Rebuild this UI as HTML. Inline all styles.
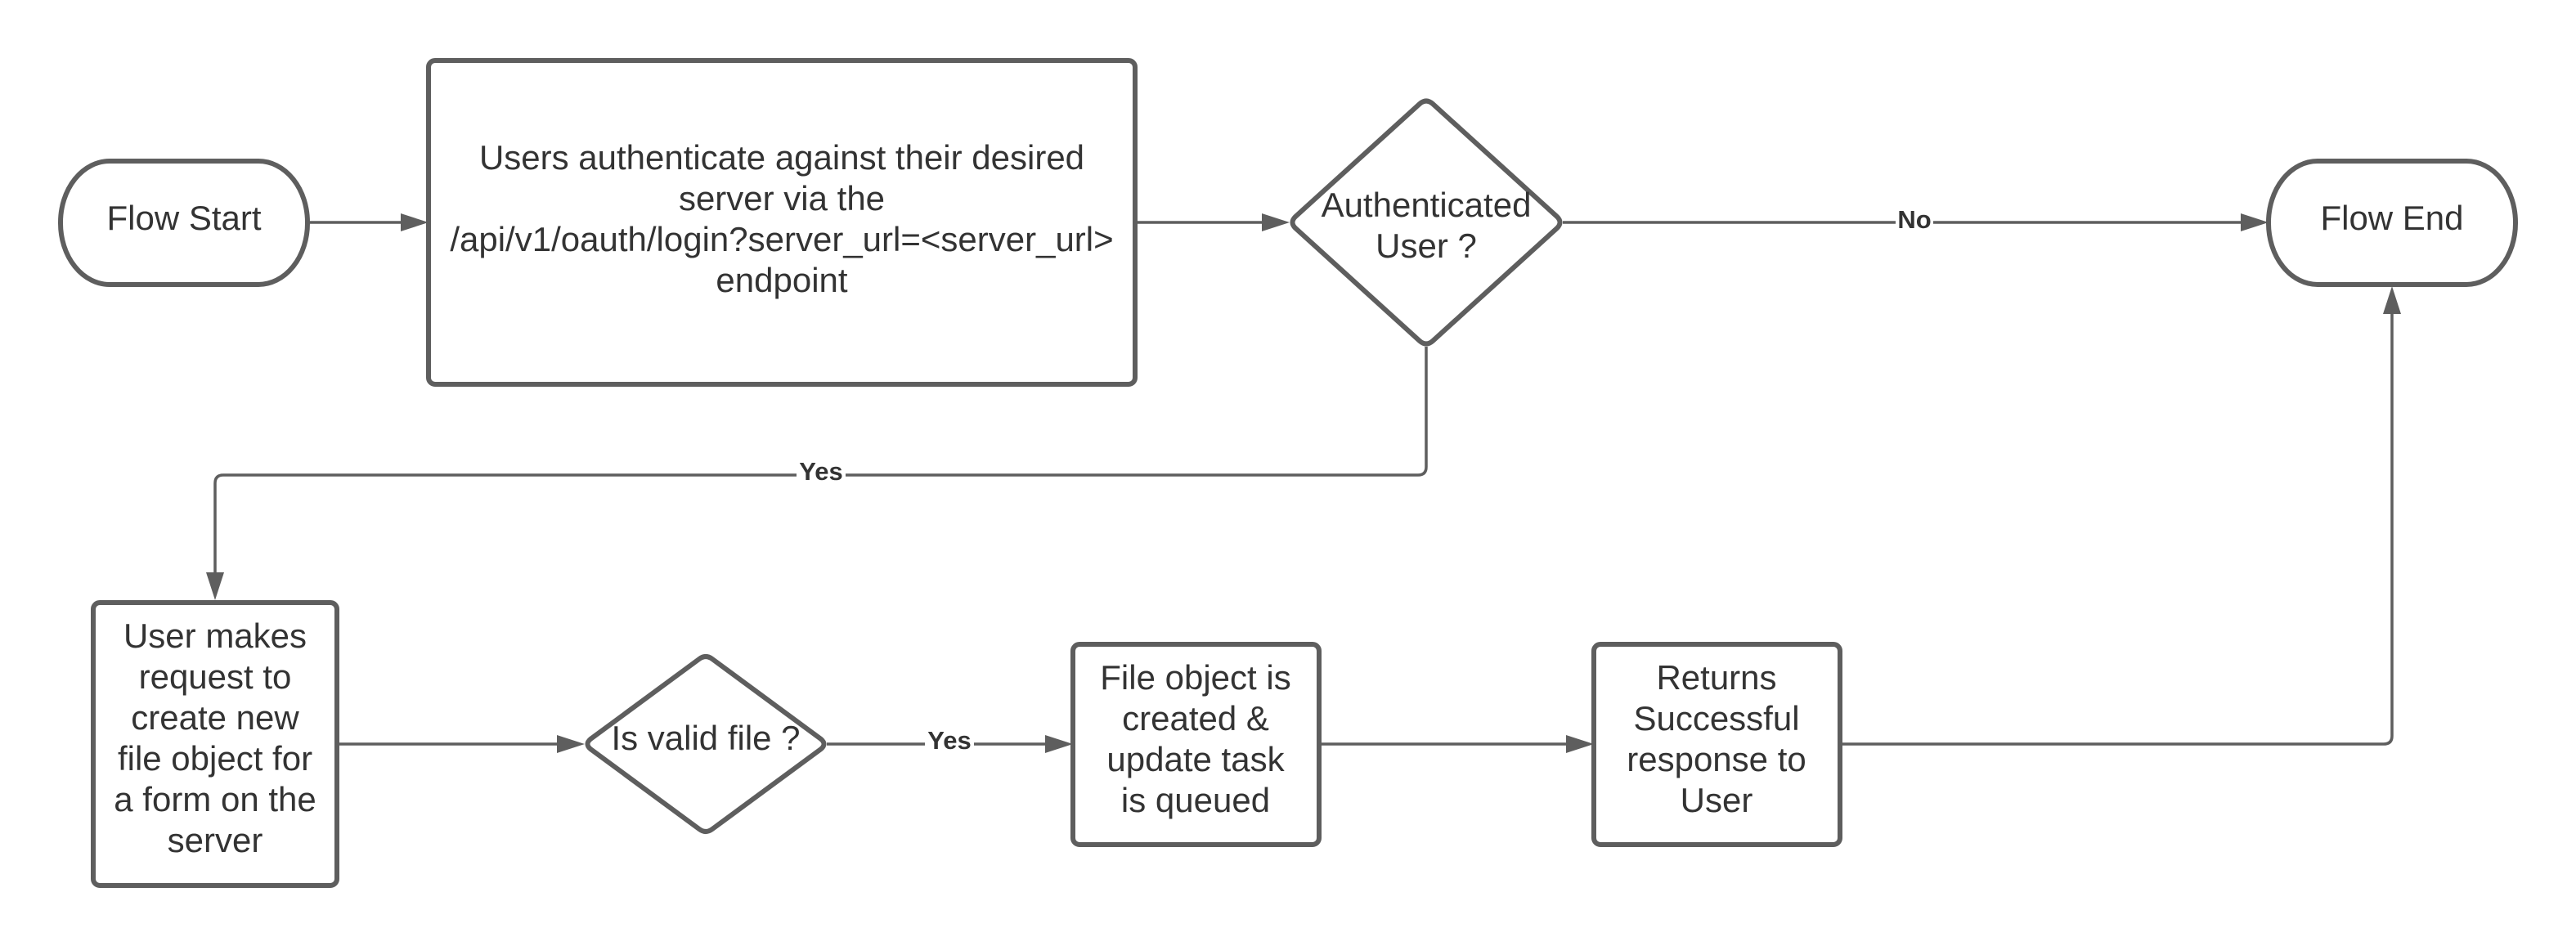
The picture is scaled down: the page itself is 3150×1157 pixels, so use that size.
<!DOCTYPE html>
<html><head><meta charset="utf-8"><style>
html,body{margin:0;padding:0;background:#fff;}
svg{display:block;}
text{font-family:"Liberation Sans",sans-serif;fill:#333;}
.t{font-size:42px;text-anchor:middle;}
.l{font-size:31px;font-weight:bold;text-anchor:middle;}
.s{fill:#fff;stroke:#5e5e5e;stroke-width:6;}
.c{fill:none;stroke:#5e5e5e;stroke-width:3.5;}
.a{fill:#5e5e5e;}
</style></head><body>
<svg width="3150" height="1157" viewBox="0 0 3150 1157" xmlns="http://www.w3.org/2000/svg">
<line class="c" x1="376" y1="272" x2="490" y2="272"/>
<polygon class="a" points="524,272 490,261 490,283"/>
<line class="c" x1="1388" y1="272" x2="1543" y2="272"/>
<polygon class="a" points="1577,272 1543,261 1543,283"/>
<line class="c" x1="1911" y1="272" x2="2740" y2="272"/>
<polygon class="a" points="2774,272 2740,261 2740,283"/>
<path class="c" d="M1744,424 V571 Q1744,581 1734,581 H273 Q263,581 263,591 V700"/>
<polygon class="a" points="263,734 252,700 274,700"/>
<line class="c" x1="414" y1="910" x2="681" y2="910"/>
<polygon class="a" points="715,910 681,899 681,921"/>
<line class="c" x1="1011" y1="910" x2="1278" y2="910"/>
<polygon class="a" points="1312,910 1278,899 1278,921"/>
<line class="c" x1="1613" y1="910" x2="1915" y2="910"/>
<polygon class="a" points="1949,910 1915,899 1915,921"/>
<path class="c" d="M2250,910 H2915 Q2925,910 2925,900 V384"/>
<polygon class="a" points="2925,350 2914,384 2936,384"/>
<rect x="2318" y="254" width="46" height="34" fill="#fff"/>
<text class="l" x="2341" y="279">No</text>
<rect x="974" y="563" width="60" height="34" fill="#fff"/>
<text class="l" x="1004" y="587">Yes</text>
<rect x="1131" y="890" width="60" height="34" fill="#fff"/>
<text class="l" x="1161" y="916">Yes</text>
<rect class="s" x="74" y="197" width="302" height="151" rx="60" ry="75"/>
<text class="t" x="225" y="281">Flow Start</text>
<rect class="s" x="524" y="74" width="864" height="396" rx="8"/>
<text class="t" x="956" y="207">Users authenticate against their desired</text>
<text class="t" x="956" y="257">server via the</text>
<text class="t" x="956" y="307">/api/v1/oauth/login?server_url=&lt;server_url&gt;</text>
<text class="t" x="956" y="357">endpoint</text>
<path class="s" d="M1736,127 Q1744,120 1752,127 L1904,265 Q1911,272 1904,279 L1752,417 Q1744,424 1736,417 L1584,279 Q1577,272 1584,265 Z"/>
<text class="t" x="1744" y="265">Authenticated</text>
<text class="t" x="1744" y="315">User ?</text>
<rect class="s" x="2774" y="197" width="302" height="151" rx="60" ry="75"/>
<text class="t" x="2925" y="281">Flow End</text>
<rect class="s" x="114" y="737" width="298" height="346" rx="8"/>
<text class="t" x="263" y="792">User makes</text>
<text class="t" x="263" y="842">request to</text>
<text class="t" x="263" y="892">create new</text>
<text class="t" x="263" y="942">file object for</text>
<text class="t" x="263" y="992">a form on the</text>
<text class="t" x="263" y="1042">server</text>
<path class="s" d="M855,806 Q863,800 871,806 L1004,904 Q1011,910 1004,916 L871,1014 Q863,1020 855,1014 L722,916 Q715,910 722,904 Z"/>
<text class="t" x="863" y="917">Is valid file ?</text>
<rect class="s" x="1312" y="788" width="301" height="245" rx="8"/>
<text class="t" x="1462" y="843">File object is</text>
<text class="t" x="1462" y="893">created &amp;</text>
<text class="t" x="1462" y="943">update task</text>
<text class="t" x="1462" y="993">is queued</text>
<rect class="s" x="1949" y="788" width="301" height="245" rx="8"/>
<text class="t" x="2099" y="843">Returns</text>
<text class="t" x="2099" y="893">Successful</text>
<text class="t" x="2099" y="943">response to</text>
<text class="t" x="2099" y="993">User</text>
</svg>
</body></html>
